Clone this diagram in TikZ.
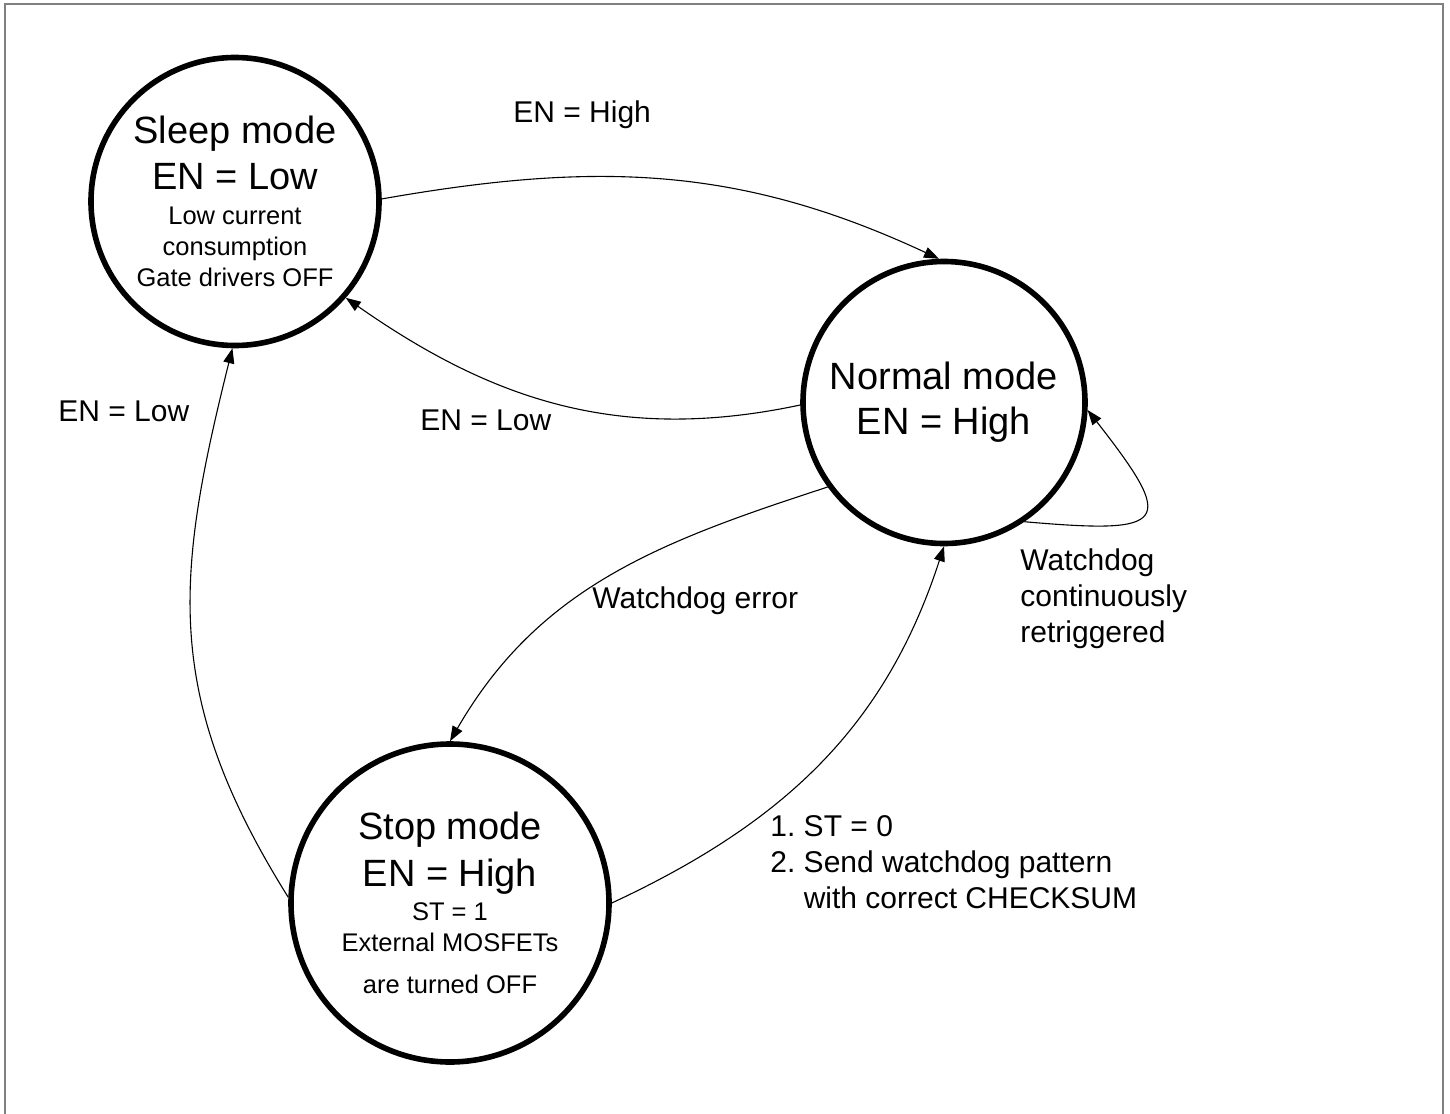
\documentclass[tikz,border=0pt]{standalone}
\usepackage{fontspec}
\setmainfont{Liberation Sans}
\usetikzlibrary{arrows.meta}
\frenchspacing
\newcommand{\modebig}{\fontsize{19}{23}\selectfont}
\newcommand{\modesmall}{\fontsize{12.75}{15.5}\selectfont}
\begin{document}
\begin{tikzpicture}[x=0.5pt,y=0.5pt,
        modecircle/.style={circle,draw,line width=2.8pt,inner sep=0pt,align=center,
            font={\lineskiplimit=-100pt\modesmall}},
        trans/.style={line width=0.55pt,-{Triangle[length=7.5pt,width=5.5pt]}},
        edgelabel/.style={font={\lineskiplimit=-100pt\fontsize{15}{18}\selectfont},
            align=left,anchor=base west,inner sep=0pt}]
            \useasboundingbox (0,0) rectangle (1450,-1113);
            \draw[line width=1pt,gray] (5,-4) rectangle (1443,-1125);

            % the three modes
            \node[modecircle,minimum size=144pt] (sleep) at (235,-201.5)
                {{\modebig Sleep mode}\\[7.5pt]{\modebig EN = Low}\\[2pt]Low current\\consumption\\Gate drivers OFF};
            \node[modecircle,minimum size=141pt] (normal) at (944,-402.5)
                {{\modebig Normal mode}\\[7pt]{\modebig EN = High}};
            \node[modecircle,minimum size=159pt] (stop) at (450,-903)
                {{\modebig Stop mode}\\[8pt]{\modebig EN = High}\\[1.5pt]ST = 1\\External MOSFETs\\[5.5pt]are turned OFF};

            % transitions
            \draw[trans] (sleep.1) to[out=10,in=155] (normal.92);
            \draw[trans] (normal.181) to[out=192,in=-35] (sleep.-41);
            \draw[trans] (normal.216) to[out=198,in=60] (stop.90);
            \draw[trans] (stop.0) to[out=25,in=-108] (normal.-90);
            \draw[trans] (stop.178) to[out=122,in=-104,looseness=1.1] (sleep.-91);
            \draw[trans] (normal.-56) to[out=-5,in=-52,looseness=2.9] (normal.-3);

            % labels (base = last line)
            \node[edgelabel] (enhigh) at (513,-122) {EN = High};
            \node[edgelabel] (enlowleft) at (58,-421) {EN = Low};
            \node[edgelabel] (enlowmid) at (420,-430) {EN = Low};
            \node[edgelabel] (wderror) at (592,-608) {Watchdog error};
            \node[edgelabel] (wdretrig) at (1020,-642) {Watchdog\\continuously\\retriggered};
            \node[edgelabel] (restart) at (770,-908) {1. ST = 0\\2. Send watchdog pattern\\\phantom{2. }with correct CHECKSUM};
\end{tikzpicture}
\end{document}
